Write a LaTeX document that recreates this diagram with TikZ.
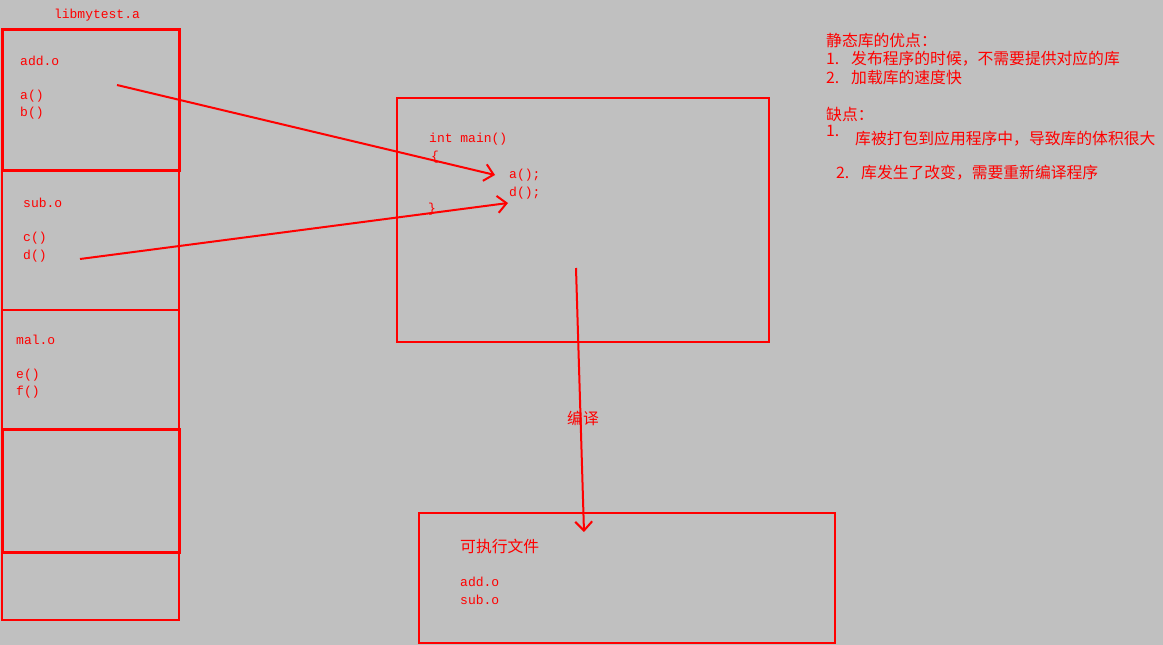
\documentclass[tikz,border=0pt]{standalone}
\usepackage{fontspec}
\setmonofont{Liberation Mono}
\newfontfamily\cjk{Noto Sans CJK SC}
\usetikzlibrary{arrows.meta,positioning}
\definecolor{bg}{RGB}{192,192,192}
\tikzstyle{arrow} = [line width=2pt,red,-{Straight Barb[length=9pt,width=17pt]}]
\tikzstyle{cell} = [rectangle, draw=red, line width=2pt, inner sep=0pt]
\tikzstyle{code} = [red, inner sep=0pt, anchor=west, font=\ttfamily\fontsize{13}{17.5}\selectfont, align=left]
\tikzstyle{note} = [red, inner sep=0pt, anchor=west, font=\cjk\fontsize{15.8}{18}\selectfont]

\begin{document}
\begin{tikzpicture}[x=1pt,y=-1pt]
\useasboundingbox (0,0) rectangle (1163,645);
\fill [bg] (0,0) rectangle (1163,645);

% the archive
\node [code, anchor=center] (lib) at (97,15) {libmytest.a};
\node [cell, minimum width=177pt, minimum height=140pt] (sub) at (90.5,240) {};
\node [cell, minimum width=177pt, minimum height=119pt] (mal) at (90.5,369.5) {};
\node [cell, minimum width=177pt, minimum height=68pt] (rest) at (90.5,586) {};
\node [cell, line width=3pt, minimum width=177pt, minimum height=141pt] (add) at (90.5,99.5) {};
\node [cell, line width=3pt, minimum width=177pt, minimum height=123pt] (empty) at (90.5,490.5) {};

\node [code] (addname) at (20,61) {add.o};
\node [code] (addfun) at (20,104.5) {a()\\b()};
\node [code] (subname) at (23,203) {sub.o};
\node [code] (subfun) at (23,247) {c()\\d()};
\node [code] (malname) at (16,340) {mal.o};
\node [code] (malfun) at (16,383.5) {e()\\f()};

% main program
\node [cell, minimum width=372pt, minimum height=244pt] (prog) at (583,220) {};
\node [code] (main) at (429,139) {int main()};
\node [code] (open) at (431,157) {\{};
\node [code] (calla) at (509,175) {a();};
\node [code] (calld) at (509,193) {d();};
\node [code] (close) at (428,209) {\}};

% executable
\node [cell, minimum width=416pt, minimum height=130pt] (exe) at (627,578) {};
\node [note] (exename) at (460,546) {可执行文件};
\node [code] (exefun) at (460,591) {add.o\\sub.o};

\node [note, anchor=center] (compile) at (583,418) {编译};

% notes
\node [note] (pro) at (826,41) {静态库的优点：};
\node [note] (pro1) at (826,59) {1.\hspace{0.75em}发布程序的时候，不需要提供对应的库};
\node [note] (pro2) at (826,77) {2.\hspace{0.75em}加载库的速度快};
\node [note] (con) at (826,114) {缺点：};
\node [note] (con1) at (826,131) {1.};
\node [note] (con1x) at (855,139) {库被打包到应用程序中，导致库的体积很大};
\node [note] (con2) at (836,173) {2.\hspace{0.75em}库发生了改变，需要重新编译程序};

\coordinate (froma) at (117,85);
\coordinate (froma') at (495,175);
\coordinate (fromd) at (80,259);
\coordinate (fromd') at (508,203);
\coordinate (down) at (576,268);
\coordinate (down') at (584,532);

\draw [arrow] (froma) to (froma');
\draw [arrow] (fromd) to (fromd');
\draw [arrow] (down) to (down');

\end{tikzpicture}
\end{document}
